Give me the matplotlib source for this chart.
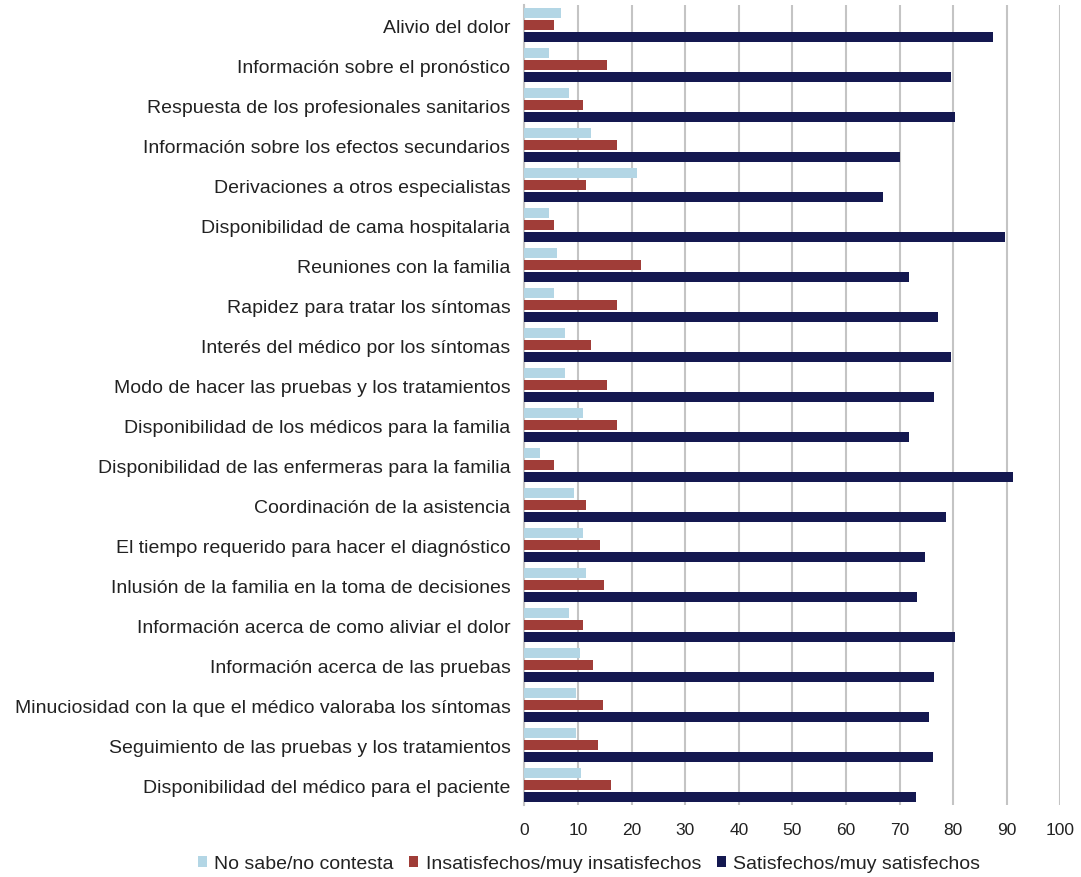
import matplotlib
matplotlib.use("Agg")
import matplotlib.pyplot as plt
import numpy as np

categories = [
    "Alivio del dolor",
    "Información sobre el pronóstico",
    "Respuesta de los profesionales sanitarios",
    "Información sobre los efectos secundarios",
    "Derivaciones a otros especialistas",
    "Disponibilidad de cama hospitalaria",
    "Reuniones con la familia",
    "Rapidez para tratar los síntomas",
    "Interés del médico por los síntomas",
    "Modo de hacer las pruebas y los tratamientos",
    "Disponibilidad de los médicos para la familia",
    "Disponibilidad de las enfermeras para la familia",
    "Coordinación de la asistencia",
    "El tiempo requerido para hacer el diagnóstico",
    "Inlusión de la familia en la toma de decisiones",
    "Información acerca de como aliviar el dolor",
    "Información acerca de las pruebas",
    "Minuciosidad con la que el médico valoraba los síntomas",
    "Seguimiento de las pruebas y los tratamientos",
    "Disponibilidad del médico para el paciente",
]
no_sabe = [6.8, 4.6, 8.4, 12.4, 21.0, 4.6, 6.1, 5.5, 7.6, 7.6,
           10.9, 3.0, 9.3, 10.9, 11.6, 8.4, 10.3, 9.7, 9.7, 10.6]
insatisfechos = [5.5, 15.4, 10.9, 17.2, 11.6, 5.5, 21.7, 17.2, 12.5, 15.4,
                 17.2, 5.5, 11.6, 14.1, 14.8, 10.9, 12.8, 14.6, 13.7, 16.1]
satisfechos = [87.4, 79.6, 80.4, 70.1, 66.9, 89.7, 71.7, 77.1, 79.6, 76.4,
               71.7, 91.2, 78.7, 74.8, 73.3, 80.4, 76.4, 75.5, 76.2, 73.0]
series_labels = ["No sabe/no contesta", "Insatisfechos/muy insatisfechos",
                 "Satisfechos/muy satisfechos"]
colors = ["#b3d6e5", "#a03d38", "#141850"]
xticks = list(range(0, 101, 10))

plt.rcParams['font.family'] = ['Liberation Sans', 'DejaVu Sans']

fig = plt.figure(figsize=(10.81, 8.78), dpi=100)
ax = fig.add_axes([0.485, 0.082, 0.496, 0.911])

y = np.arange(len(categories))
h = 0.24
step = 0.3
for i, (vals, lab, c) in enumerate(zip([no_sabe, insatisfechos, satisfechos],
                                       series_labels, colors)):
    ax.barh(y + (i - 1) * step, vals, height=h, color=c, label=lab, zorder=3)

ax.set_xlim(0, 100)
ax.set_ylim(len(categories) - 0.5, -0.5)
ax.set_xticks(xticks)
ax.set_yticks(y)
ax.set_yticklabels(categories, fontsize=14, color="#222222")
ax.tick_params(axis='x', labelsize=12.5, length=0, pad=12, colors="#222222")
ax.tick_params(axis='y', length=0, pad=10)
ax.grid(axis='x', color="#c4c4c4", linewidth=1.5, zorder=0)
for s in ['top', 'right', 'bottom']:
    ax.spines[s].set_visible(False)
ax.spines['left'].set_color("#c4c4c4")
ax.spines['left'].set_linewidth(1.5)

fig.legend(loc='center', bbox_to_anchor=(0.545, 0.015), ncol=3, frameon=False,
           fontsize=14, handlelength=0.45, handleheight=0.45, handletextpad=0.4,
           columnspacing=0.8, labelcolor="#222222")

fig.savefig("out.png", dpi=100)
